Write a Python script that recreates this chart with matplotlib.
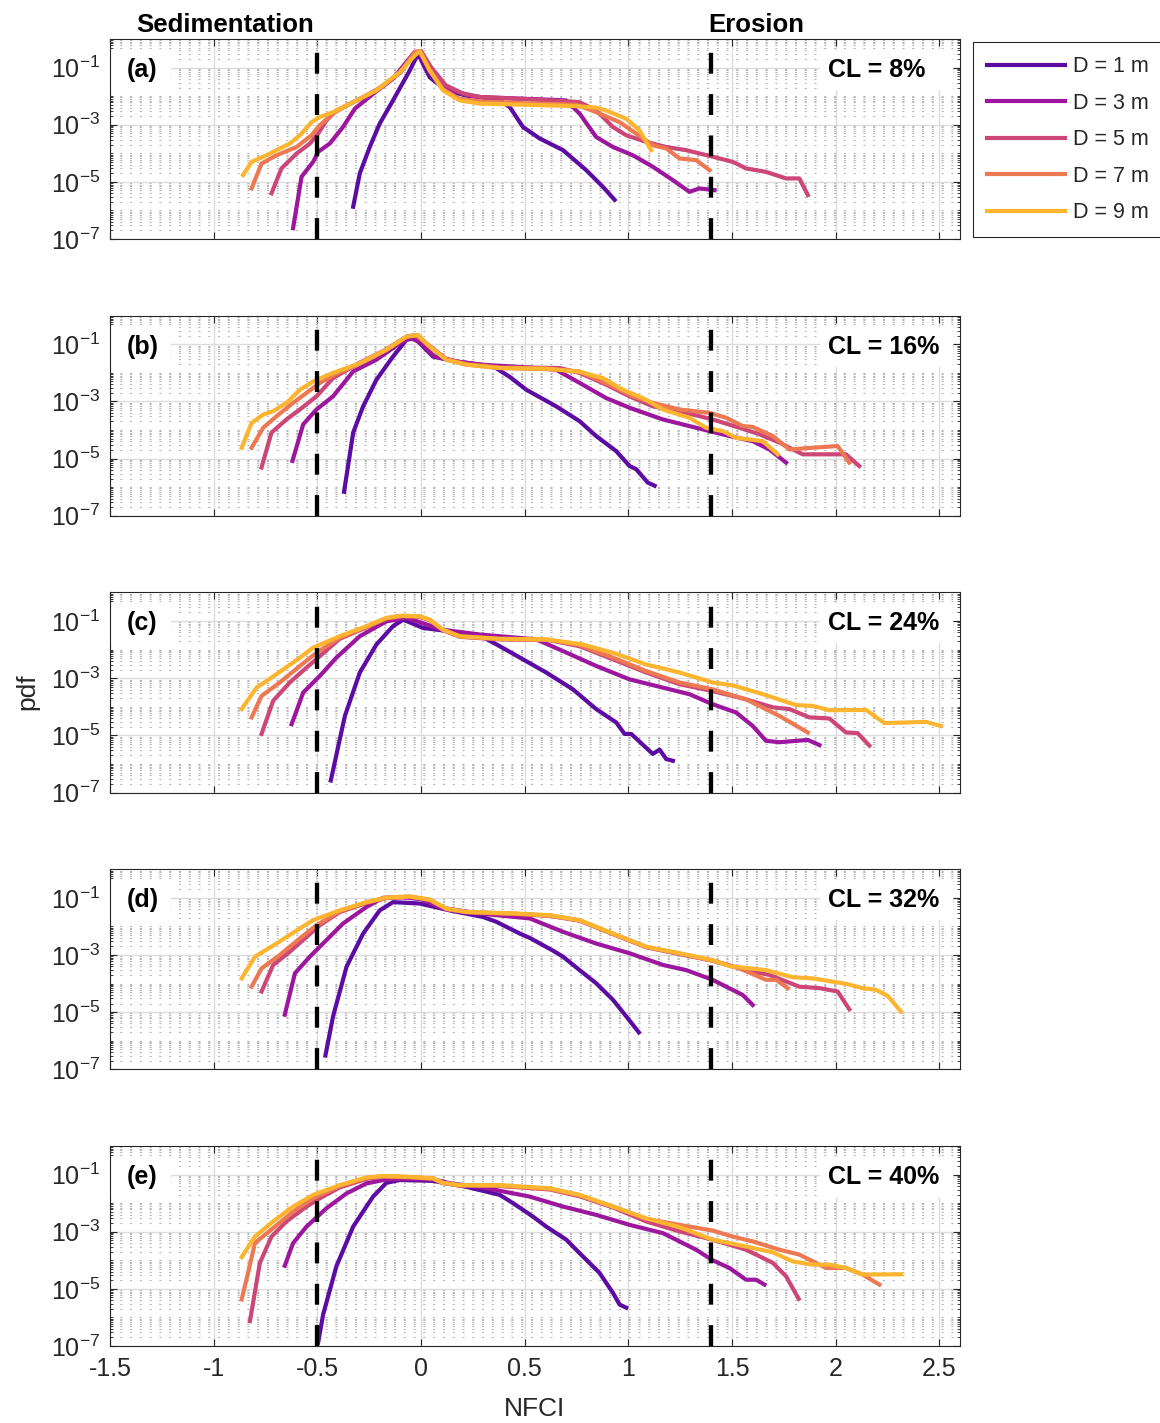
import numpy as np
import matplotlib
matplotlib.use("Agg")
import matplotlib.pyplot as plt
from matplotlib.ticker import FixedLocator, LogLocator, MultipleLocator, NullFormatter, FuncFormatter
from matplotlib.patches import Rectangle

plt.rcParams['font.family'] = ['Liberation Sans', 'DejaVu Sans']
plt.rcParams['mathtext.fontset'] = 'custom'
plt.rcParams['mathtext.rm'] = 'Liberation Sans'
plt.rcParams['mathtext.it'] = 'Liberation Sans:italic'
plt.rcParams['mathtext.bf'] = 'Liberation Sans:bold'
plt.rcParams['axes.unicode_minus'] = False

depths = [1, 3, 5, 7, 9]
colors = ['#5c0ba3', '#9c179e', '#cc4778', '#ed7953', '#fdb42f']
panel_tags = ['(a)', '(b)', '(c)', '(d)', '(e)']
cloud_levels = [8, 16, 24, 32, 40]
sed_limit = -0.5
ero_limit = 1.4

# NFCI values and log10(pdf), one list per depth (D = 1, 3, 5, 7, 9 m)
nfci_a = [
    [-0.327, -0.295, -0.247, -0.199, -0.135, -0.054, -0.014, 0.042, 0.123, 0.219, 0.283, 0.38, 0.428, 0.492, 0.572, 0.685, 0.797, 0.877, 0.934],
    [-0.617, -0.576, -0.52, -0.496, -0.44, -0.376, -0.319, -0.231, -0.135, -0.038, -0.01, 0.042, 0.123, 0.219, 0.283, 0.45, 0.60, 0.70, 0.765, 0.845, 0.926, 1.022, 1.118, 1.215, 1.295, 1.343, 1.416],
    [-0.721, -0.673, -0.60, -0.536, -0.496, -0.456, -0.408, -0.30, -0.20, -0.10, -0.03, 0.0, 0.05, 0.12, 0.2, 0.283, 0.5, 0.765, 0.845, 0.926, 0.99, 1.086, 1.183, 1.279, 1.407, 1.504, 1.568, 1.664, 1.761, 1.825, 1.866],
    [-0.817, -0.769, -0.697, -0.60, -0.528, -0.488, -0.424, -0.33, -0.215, -0.10, -0.03, -0.005, 0.04, 0.106, 0.187, 0.283, 0.5, 0.75, 0.845, 0.958, 1.038, 1.118, 1.183, 1.247, 1.327, 1.392],
    [-0.858, -0.817, -0.745, -0.697, -0.633, -0.584, -0.528, -0.488, -0.424, -0.327, -0.215, -0.102, -0.030, -0.006, 0.042, 0.106, 0.187, 0.283, 0.5, 0.75, 0.845, 0.893, 0.99, 1.054, 1.11],
]
lpdf_a = [
    [-5.87, -4.70, -3.78, -2.96, -2.15, -1.10, -0.52, -1.34, -1.80, -1.98, -2.03, -2.15, -2.38, -3.08, -3.48, -3.89, -4.59, -5.17, -5.63],
    [-6.62, -4.82, -4.30, -3.95, -3.66, -3.08, -2.44, -1.92, -1.39, -0.52, -0.45, -1.15, -1.72, -1.95, -2.03, -2.08, -2.12, -2.15, -2.61, -3.43, -3.78, -4.07, -4.47, -4.94, -5.35, -5.23, -5.29],
    [-5.40, -4.53, -4.01, -3.66, -3.31, -2.85, -2.50, -2.12, -1.72, -1.18, -0.45, -0.42, -1.0, -1.62, -1.90, -2.03, -2.10, -2.21, -2.50, -3.08, -3.37, -3.60, -3.78, -3.89, -4.12, -4.30, -4.53, -4.65, -4.88, -4.88, -5.46],
    [-5.23, -4.36, -4.07, -3.78, -3.37, -3.02, -2.60, -2.22, -1.80, -1.17, -0.47, -0.43, -1.05, -1.75, -2.10, -2.18, -2.25, -2.30, -2.56, -2.91, -3.31, -3.72, -3.83, -4.18, -4.24, -4.59],
    [-4.76, -4.30, -4.07, -3.89, -3.66, -3.37, -2.91, -2.73, -2.56, -2.21, -1.80, -1.16, -0.58, -0.42, -1.10, -1.80, -2.15, -2.26, -2.30, -2.35, -2.40, -2.50, -2.79, -3.20, -3.89],
]

nfci_b = [
    [-0.371, -0.327, -0.279, -0.215, -0.135, -0.070, -0.030, 0.058, 0.171, 0.30, 0.36, 0.43, 0.508, 0.652, 0.765, 0.845, 0.942, 1.006, 1.038, 1.094, 1.127],
    [-0.620, -0.568, -0.504, -0.424, -0.327, -0.215, -0.102, -0.05, 0.0, 0.06, 0.15, 0.283, 0.50, 0.652, 0.765, 0.893, 1.006, 1.167, 1.327, 1.488, 1.600, 1.681, 1.761],
    [-0.769, -0.721, -0.649, -0.584, -0.504, -0.424, -0.30, -0.17, -0.07, -0.03, 0.04, 0.12, 0.22, 0.38, 0.669, 0.765, 0.893, 1.006, 1.118, 1.247, 1.407, 1.536, 1.633, 1.729, 1.841, 1.986, 2.050, 2.114],
    [-0.817, -0.761, -0.697, -0.617, -0.552, -0.488, -0.40, -0.295, -0.167, -0.07, -0.02, 0.042, 0.123, 0.219, 0.38, 0.62, 0.765, 0.926, 1.022, 1.118, 1.247, 1.392, 1.472, 1.552, 1.600, 1.697, 1.777, 1.889, 2.010, 2.066],
    [-0.865, -0.817, -0.761, -0.713, -0.649, -0.584, -0.520, -0.424, -0.295, -0.167, -0.070, -0.014, 0.042, 0.123, 0.219, 0.380, 0.604, 0.765, 0.877, 0.974, 1.070, 1.167, 1.295, 1.375, 1.456, 1.520, 1.649, 1.721],
]
lpdf_b = [
    [-6.16, -4.09, -3.17, -2.24, -1.43, -0.84, -0.78, -1.43, -1.60, -1.72, -1.82, -2.15, -2.59, -3.17, -3.69, -4.21, -4.74, -5.26, -5.37, -5.84, -5.95],
    [-5.08, -3.80, -3.28, -2.82, -1.95, -1.54, -0.96, -0.78, -0.95, -1.40, -1.58, -1.71, -1.80, -1.89, -2.35, -2.88, -3.22, -3.63, -3.92, -4.21, -4.39, -4.68, -5.14],
    [-5.31, -4.09, -3.63, -3.28, -2.82, -2.18, -1.66, -1.19, -0.73, -0.68, -1.05, -1.50, -1.68, -1.80, -1.83, -2.00, -2.41, -2.82, -3.17, -3.34, -3.63, -3.92, -4.15, -4.44, -4.85, -4.85, -4.85, -5.26],
    [-4.62, -3.92, -3.52, -3.05, -2.70, -2.35, -2.00, -1.68, -1.20, -0.74, -0.68, -1.08, -1.54, -1.71, -1.83, -1.87, -1.95, -2.47, -2.82, -3.05, -3.28, -3.40, -3.57, -3.86, -3.89, -4.21, -4.68, -4.62, -4.56, -5.14],
    [-4.62, -3.75, -3.46, -3.34, -3.05, -2.59, -2.30, -2.00, -1.66, -1.19, -0.73, -0.67, -1.08, -1.54, -1.71, -1.83, -1.85, -1.96, -2.18, -2.59, -2.88, -3.28, -3.57, -3.92, -4.04, -4.27, -4.39, -4.85],
]

nfci_c = [
    [-0.435, -0.367, -0.295, -0.215, -0.135, -0.086, 0.010, 0.138, 0.283, 0.380, 0.492, 0.604, 0.733, 0.845, 0.942, 0.982, 1.014, 1.118, 1.151, 1.183, 1.215],
    [-0.624, -0.568, -0.488, -0.408, -0.295, -0.167, -0.070, 0.0, 0.10, 0.283, 0.556, 0.685, 0.845, 1.006, 1.167, 1.295, 1.407, 1.520, 1.600, 1.664, 1.729, 1.866, 1.922],
    [-0.769, -0.713, -0.633, -0.552, -0.488, -0.392, -0.263, -0.167, -0.09, -0.006, 0.042, 0.106, 0.187, 0.380, 0.62, 0.765, 0.926, 1.086, 1.247, 1.407, 1.568, 1.697, 1.777, 1.873, 1.970, 2.050, 2.106, 2.163],
    [-0.817, -0.769, -0.681, -0.584, -0.504, -0.392, -0.263, -0.167, -0.09, -0.006, 0.042, 0.106, 0.187, 0.380, 0.62, 0.765, 0.926, 1.086, 1.247, 1.407, 1.568, 1.729, 1.866],
    [-0.865, -0.793, -0.697, -0.584, -0.520, -0.392, -0.263, -0.167, -0.102, -0.006, 0.042, 0.106, 0.187, 0.380, 0.604, 0.781, 0.926, 1.086, 1.247, 1.407, 1.504, 1.649, 1.809, 1.889, 1.970, 2.147, 2.235, 2.436, 2.507],
]
lpdf_c = [
    [-6.58, -4.32, -2.80, -1.82, -1.18, -0.95, -1.24, -1.36, -1.50, -1.88, -2.34, -2.80, -3.39, -4.08, -4.55, -4.95, -4.95, -5.65, -5.50, -5.83, -5.89],
    [-4.61, -3.50, -2.92, -2.28, -1.53, -1.01, -0.89, -1.05, -1.30, -1.47, -1.64, -2.05, -2.57, -3.04, -3.33, -3.56, -3.91, -4.20, -4.67, -5.19, -5.24, -5.16, -5.34],
    [-4.95, -3.79, -3.15, -2.63, -2.23, -1.62, -1.22, -0.92, -0.84, -0.85, -0.97, -1.32, -1.55, -1.64, -1.67, -1.88, -2.34, -2.80, -3.21, -3.45, -3.74, -4.02, -4.08, -4.37, -4.41, -4.90, -4.92, -5.36],
    [-4.37, -3.62, -3.15, -2.57, -2.11, -1.58, -1.20, -0.90, -0.82, -0.84, -0.96, -1.31, -1.54, -1.63, -1.66, -1.84, -2.28, -2.75, -3.15, -3.39, -3.74, -4.32, -4.90],
    [-4.08, -3.33, -2.86, -2.28, -1.93, -1.53, -1.18, -0.89, -0.81, -0.83, -0.95, -1.30, -1.53, -1.62, -1.64, -1.82, -2.11, -2.52, -2.80, -3.15, -3.25, -3.56, -3.94, -3.97, -4.12, -4.11, -4.57, -4.53, -4.67],
]

nfci_d = [
    [-0.461, -0.424, -0.359, -0.279, -0.199, -0.135, -0.006, 0.138, 0.299, 0.364, 0.476, 0.524, 0.637, 0.685, 0.765, 0.845, 0.926, 0.990, 1.051],
    [-0.657, -0.608, -0.536, -0.456, -0.376, -0.263, -0.183, -0.1, 0.0, 0.1, 0.283, 0.524, 0.685, 0.845, 1.006, 1.167, 1.279, 1.407, 1.472, 1.552, 1.600],
    [-0.769, -0.713, -0.633, -0.552, -0.488, -0.392, -0.263, -0.167, -0.054, 0.042, 0.123, 0.219, 0.460, 0.620, 0.765, 0.926, 1.086, 1.247, 1.407, 1.568, 1.681, 1.825, 1.922, 2.010, 2.066],
    [-0.817, -0.769, -0.681, -0.584, -0.504, -0.392, -0.263, -0.167, -0.054, 0.042, 0.123, 0.219, 0.460, 0.620, 0.765, 0.926, 1.086, 1.247, 1.407, 1.536, 1.664, 1.713, 1.769],
    [-0.865, -0.801, -0.697, -0.584, -0.520, -0.392, -0.263, -0.167, -0.054, 0.042, 0.123, 0.219, 0.460, 0.620, 0.765, 0.926, 1.086, 1.247, 1.407, 1.488, 1.664, 1.793, 1.889, 2.050, 2.130, 2.195, 2.251, 2.315],
]
lpdf_d = [
    [-6.52, -5.15, -3.41, -2.25, -1.44, -1.15, -1.20, -1.44, -1.67, -1.84, -2.25, -2.40, -2.85, -3.06, -3.53, -3.99, -4.57, -5.15, -5.71],
    [-5.09, -3.64, -3.06, -2.48, -1.90, -1.32, -1.00, -0.97, -1.05, -1.35, -1.55, -1.72, -2.19, -2.60, -2.94, -3.35, -3.53, -3.87, -4.11, -4.40, -4.75],
    [-4.28, -3.35, -2.89, -2.37, -1.96, -1.50, -1.18, -1.01, -0.97, -1.08, -1.40, -1.51, -1.57, -1.63, -1.80, -2.27, -2.73, -2.97, -3.20, -3.53, -3.70, -4.11, -4.16, -4.28, -4.90],
    [-4.11, -3.47, -3.00, -2.42, -1.96, -1.47, -1.16, -1.00, -0.96, -1.07, -1.39, -1.50, -1.56, -1.62, -1.79, -2.26, -2.72, -2.95, -3.20, -3.47, -3.87, -3.87, -4.16],
    [-3.82, -3.06, -2.60, -2.07, -1.78, -1.44, -1.15, -0.99, -0.95, -1.06, -1.38, -1.49, -1.55, -1.61, -1.78, -2.25, -2.71, -2.94, -3.18, -3.39, -3.53, -3.78, -3.82, -4.01, -4.16, -4.22, -4.43, -4.98],
]

nfci_e = [
    [-0.496, -0.472, -0.408, -0.327, -0.231, -0.167, -0.102, 0.058, 0.219, 0.380, 0.444, 0.540, 0.604, 0.701, 0.765, 0.861, 0.926, 0.958, 0.990],
    [-0.657, -0.617, -0.552, -0.456, -0.359, -0.263, -0.167, -0.05, 0.06, 0.15, 0.283, 0.524, 0.685, 0.845, 1.006, 1.167, 1.327, 1.407, 1.488, 1.568, 1.616, 1.657],
    [-0.825, -0.777, -0.721, -0.649, -0.552, -0.488, -0.392, -0.263, -0.183, -0.05, 0.058, 0.106, 0.187, 0.380, 0.620, 0.765, 0.926, 1.086, 1.247, 1.407, 1.568, 1.697, 1.761, 1.822],
    [-0.865, -0.834, -0.801, -0.713, -0.617, -0.520, -0.392, -0.263, -0.183, -0.05, 0.058, 0.106, 0.187, 0.380, 0.620, 0.765, 0.926, 1.086, 1.247, 1.407, 1.504, 1.600, 1.729, 1.825, 1.954, 2.050, 2.130, 2.211],
    [-0.865, -0.801, -0.713, -0.617, -0.520, -0.392, -0.263, -0.183, -0.05, 0.058, 0.106, 0.187, 0.380, 0.620, 0.765, 0.926, 1.086, 1.247, 1.407, 1.568, 1.697, 1.793, 1.889, 1.970, 2.050, 2.130, 2.315],
]
lpdf_e = [
    [-6.88, -5.90, -4.21, -2.82, -1.77, -1.29, -1.19, -1.22, -1.43, -1.71, -2.00, -2.47, -2.82, -3.28, -3.75, -4.44, -5.14, -5.55, -5.66],
    [-4.19, -3.40, -2.82, -2.18, -1.66, -1.31, -1.17, -1.15, -1.17, -1.32, -1.43, -1.77, -2.12, -2.41, -2.76, -3.05, -3.63, -4.00, -4.27, -4.68, -4.68, -4.85],
    [-6.13, -4.09, -3.17, -2.64, -2.12, -1.83, -1.45, -1.15, -1.08, -1.10, -1.15, -1.30, -1.38, -1.40, -1.52, -1.76, -2.15, -2.64, -2.99, -3.28, -3.63, -4.09, -4.56, -5.35],
    [-5.37, -4.44, -3.40, -2.87, -2.30, -1.83, -1.40, -1.12, -1.06, -1.09, -1.14, -1.30, -1.38, -1.39, -1.50, -1.73, -2.12, -2.55, -2.76, -2.96, -3.17, -3.34, -3.63, -3.80, -4.27, -4.27, -4.50, -4.85],
    [-3.89, -3.17, -2.64, -2.12, -1.71, -1.37, -1.10, -1.05, -1.08, -1.13, -1.29, -1.37, -1.37, -1.48, -1.71, -2.12, -2.53, -2.84, -3.28, -3.52, -3.72, -4.04, -4.15, -4.15, -4.27, -4.50, -4.49],
]

panels_x = [nfci_a, nfci_b, nfci_c, nfci_d, nfci_e]
panels_y = [lpdf_a, lpdf_b, lpdf_c, lpdf_d, lpdf_e]

W, H = 1160, 1423
fig = plt.figure(figsize=(W / 100, H / 100), dpi=100)

dark = '#262626'
ax_left, ax_w, ax_h = 110 / W, 850 / W, 200 / H
lines = []
for i in range(5):
    top = 39 + i * 276.75
    ax = fig.add_axes([ax_left, 1 - (top + 200) / H, ax_w, ax_h])
    ax.set_yscale('log')
    ax.set_xlim(-1.5, 2.6)
    ax.set_ylim(1e-7, 1)

    ax.yaxis.set_major_locator(FixedLocator([1e-7, 1e-5, 1e-3, 1e-1]))
    ax.yaxis.set_minor_locator(LogLocator(base=10, subs=np.arange(1, 10), numticks=50))
    ax.yaxis.set_minor_formatter(NullFormatter())
    ax.yaxis.set_major_formatter(FuncFormatter(lambda v, p: r'$10^{%d}$' % round(np.log10(v))))
    ax.xaxis.set_major_locator(MultipleLocator(0.5))
    ax.xaxis.set_major_formatter(FuncFormatter(lambda v, p: '%g' % (round(v, 2) + 0.0)))

    ax.set_axisbelow(True)
    ax.grid(True, which='major', color='#dcdcdc', lw=1.0, ls='-')
    ax.grid(True, which='minor', axis='y', color='#b5b5b5', lw=0.8, ls=(0, (1.8, 7)))

    ax.tick_params(which='both', direction='in', top=True, right=True, color=dark,
                   labelcolor=dark, labelsize=18)
    ax.tick_params(which='major', length=5, width=0.8, pad=7)
    ax.tick_params(which='minor', length=2.5, width=0.6)
    ax.tick_params(axis='x', pad=8)
    if i < 4:
        ax.tick_params(axis='x', labelbottom=False)
    for s in ax.spines.values():
        s.set_color(dark)
        s.set_linewidth(0.8)

    # white boxes behind panel tag and cloud-level label
    ax.add_patch(Rectangle((0.0, 0.745), 0.072, 0.2, transform=ax.transAxes,
                           facecolor='white', edgecolor='none', zorder=1))
    ax.add_patch(Rectangle((0.835, 0.745), 0.157, 0.2, transform=ax.transAxes,
                           facecolor='white', edgecolor='none', zorder=1))

    for j in range(5):
        ln, = ax.plot(panels_x[i][j], 10.0 ** np.array(panels_y[i][j]), color=colors[j],
                      lw=3.0, zorder=2 + j * 0.01, label='D = %d m' % depths[j])
        if i == 0:
            lines.append(ln)

    for xv in (sed_limit, ero_limit):
        ax.plot([xv, xv], [1e-7, 0.5], color='k', lw=3.1, dashes=(4.85, 4.75),
                dash_capstyle='butt', zorder=4)

    ax.text(0.02, 0.845, panel_tags[i], transform=ax.transAxes, ha='left', va='center',
            fontsize=18, fontweight='bold', color='k', zorder=5)
    ax.text(0.845, 0.845, 'CL = %d%%' % cloud_levels[i], transform=ax.transAxes,
            ha='left', va='center', fontsize=18, fontweight='bold', color='k', zorder=5)

fig.text(225 / W, 1 - 24.5 / H, 'Sedimentation', ha='center', va='center',
         fontsize=18.5, fontweight='bold', color='k')
fig.text(756 / W, 1 - 24.5 / H, 'Erosion', ha='center', va='center',
         fontsize=18.5, fontweight='bold', color='k')
fig.text(27 / W, 1 - 692 / H, 'pdf', rotation=90, ha='center', va='center',
         fontsize=19, color=dark)
fig.text(535 / W, 1 - 1409 / H, 'NFCI', ha='center', va='center', fontsize=19, color=dark)

leg = fig.legend(handles=lines, loc='upper left', bbox_to_anchor=(973 / W, 1 - 42 / H),
                 borderaxespad=0, fontsize=15.5, handlelength=3.6, handletextpad=0.38,
                 labelspacing=0.72, borderpad=0.66, fancybox=False, framealpha=1)
leg.get_frame().set_edgecolor(dark)
leg.get_frame().set_linewidth(0.8)
for t in leg.get_texts():
    t.set_color(dark)

fig.savefig('out.png', dpi=100)
